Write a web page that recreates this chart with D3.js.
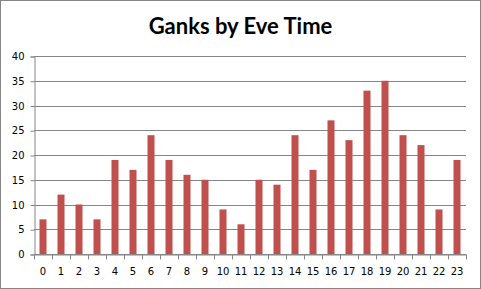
<!DOCTYPE html>
<html lang="en">
<head>
    <meta charset="UTF-8">
    <title>Ganks by Eve Time</title>
    <script src="https://d3js.org/d3.v7.min.js"></script>
    <style>
        html, body {
            margin: 0;
            padding: 0;
            background: #fff;
        }

        .axis text {
            font-family: "DejaVu Sans", Verdana, sans-serif;
            font-size: 10px;
            fill: #000;
        }

        .title {
            font-family: Lato, Calibri, sans-serif;
            font-weight: bold;
            font-size: 22px;
            fill: #000;
        }
    </style>
</head>
<body>
<script>
    var hours = ["0", "1", "2", "3", "4", "5", "6", "7", "8", "9", "10", "11",
        "12", "13", "14", "15", "16", "17", "18", "19", "20", "21", "22", "23"];
    var ganks = [7, 12, 10, 7, 19, 17, 24, 19, 16, 15, 9, 6,
        15, 14, 24, 17, 27, 23, 33, 35, 24, 22, 9, 19];
    var yTicks = [0, 5, 10, 15, 20, 25, 30, 35, 40];

    var width = 481,
        height = 289,
        plot = {left: 34, right: 466, top: 56, bottom: 254};

    var svg = d3.select("body").append("svg")
        .attr("width", width)
        .attr("height", height);

    // chart border
    svg.append("rect")
        .attr("x", 0.5)
        .attr("y", 0.5)
        .attr("width", width - 1)
        .attr("height", height - 1)
        .style("fill", "#fff")
        .style("stroke", "#868686");

    var x = d3.scaleBand()
        .domain(hours)
        .range([plot.left, plot.right])
        .paddingInner(0.61)
        .paddingOuter(0.305);

    var y = d3.scaleLinear()
        .domain([0, 40])
        .range([plot.bottom, plot.top]);

    // gridlines
    svg.append("g")
        .selectAll("line")
        .data(yTicks)
        .enter().append("line")
        .attr("x1", plot.left)
        .attr("x2", plot.right)
        .attr("y1", function (d) { return Math.round(y(d)) + 0.5; })
        .attr("y2", function (d) { return Math.round(y(d)) + 0.5; })
        .style("stroke", "#868686");

    // bars
    svg.append("g")
        .selectAll("rect")
        .data(ganks)
        .enter().append("rect")
        .attr("x", function (d, i) { return x(hours[i]); })
        .attr("y", function (d) { return y(d); })
        .attr("width", x.bandwidth())
        .attr("height", function (d) { return y(0) - y(d); })
        .style("fill", "#C0504D");

    // y axis
    var yAxis = svg.append("g")
        .attr("class", "axis")
        .attr("transform", "translate(" + (plot.left + 0.5) + ",0.5)")
        .call(d3.axisLeft(y).tickValues(yTicks).tickSize(4).tickPadding(6));
    yAxis.select(".domain").style("stroke", "#868686");
    yAxis.selectAll(".tick line").style("stroke", "#868686");

    // x axis with ticks between categories
    var xAxis = svg.append("g")
        .attr("class", "axis")
        .attr("transform", "translate(0," + (plot.bottom + 0.5) + ")")
        .call(d3.axisBottom(x).tickSize(0).tickPadding(13));
    xAxis.select(".domain").style("stroke", "#868686");

    var step = x.step();
    xAxis.selectAll(".sep")
        .data(d3.range(hours.length + 1))
        .enter().append("line")
        .attr("x1", function (i) { return Math.round(plot.left + i * step) + 0.5; })
        .attr("x2", function (i) { return Math.round(plot.left + i * step) + 0.5; })
        .attr("y1", 0)
        .attr("y2", 5)
        .style("stroke", "#868686");

    svg.append("text")
        .attr("class", "title")
        .attr("x", width / 2)
        .attr("y", 34)
        .attr("text-anchor", "middle")
        .text("Ganks by Eve Time");
</script>
</body>
</html>
